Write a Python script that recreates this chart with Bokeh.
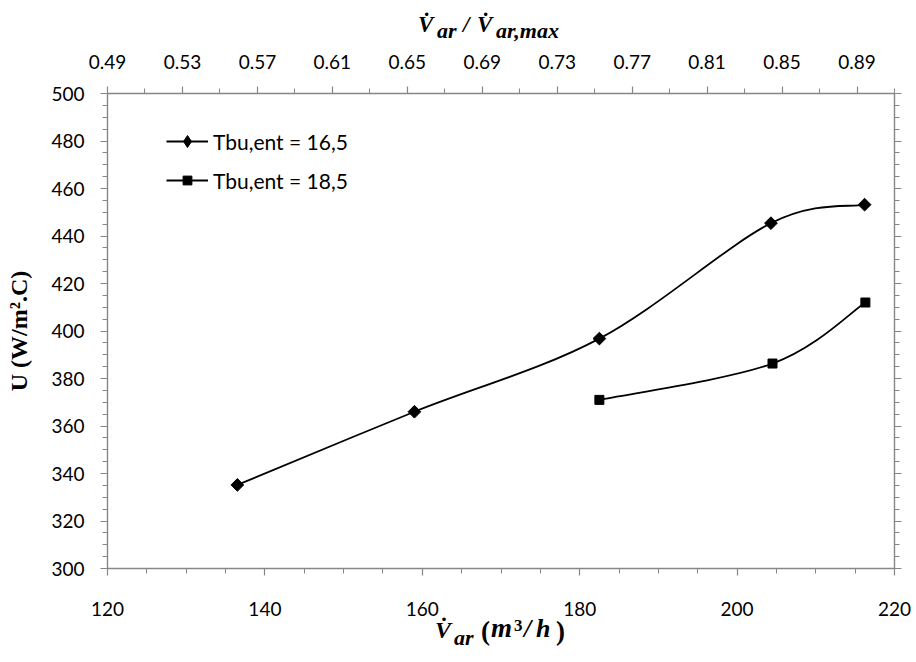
import numpy as np
from bokeh.plotting import figure
from bokeh.layouts import column
from bokeh.models import (ColumnDataSource, LinearAxis, Range1d, FixedTicker,
                          Legend, LegendItem, Div)
from bokeh.embed import file_html
from bokeh.resources import INLINE

# ---------------- data ----------------
series_names = ["Tbu,ent = 16,5", "Tbu,ent = 18,5"]
airflow_s1 = [136.5, 159.0, 182.5, 204.3, 216.2]
u_s1 = [335.2, 366.0, 396.8, 445.4, 453.2]
airflow_s2 = [182.5, 204.5, 216.3]
u_s2 = [371.0, 386.3, 412.0]

x_ticks = [120, 140, 160, 180, 200, 220]
x_minor = [v for v in range(120, 221, 5)]
y_ticks = [300, 320, 340, 360, 380, 400, 420, 440, 460, 480, 500]
y_minor = [v for v in range(300, 501, 5)]
top_ticks = [0.49, 0.53, 0.57, 0.61, 0.65, 0.69, 0.73, 0.77, 0.81, 0.85, 0.89]
top_tick_labels = ["0.49", "0.53", "0.57", "0.61", "0.65", "0.69", "0.73",
                   "0.77", "0.81", "0.85", "0.89"]
top_minor = [0.51, 0.55, 0.59, 0.63, 0.67, 0.71, 0.75, 0.79, 0.83, 0.87, 0.91]
top_range = (0.49, 0.91)
x_range = (120, 220)
y_range = (300, 500)

AXIS_COLOR = "#868686"
TICK_FONT = "Lato"
SERIF = "Liberation Serif"

# ---------------- page geometry ----------------
PAGE_W, PAGE_H = 916, 662
TOP_H = 42                      # div with the top title
FRAME_L, FRAME_R, FRAME_T, FRAME_B = 107, 894, 93, 568
BORDER_BOTTOM = 57
FIG_H = (FRAME_B - TOP_H) + BORDER_BOTTOM
BOT_TOP = TOP_H + FIG_H
BOT_H = PAGE_H - BOT_TOP


def smooth_segments(xs, ys):
    """Bezier control points (Excel-like smoothing) computed from the data."""
    n = len(xs)
    d = dict(x0=[], y0=[], x1=[], y1=[], cx0=[], cy0=[], cx1=[], cy1=[])
    for i in range(n - 1):
        a = i - 1 if i > 0 else i
        b = i + 2 if i + 2 < n else i + 1
        d["x0"].append(xs[i]); d["y0"].append(ys[i])
        d["x1"].append(xs[i + 1]); d["y1"].append(ys[i + 1])
        d["cx0"].append(xs[i] + (xs[i + 1] - xs[a]) / 6.0)
        d["cy0"].append(ys[i] + (ys[i + 1] - ys[a]) / 6.0)
        d["cx1"].append(xs[i + 1] - (xs[b] - xs[i]) / 6.0)
        d["cy1"].append(ys[i + 1] - (ys[b] - ys[i]) / 6.0)
    return ColumnDataSource(d)


p = figure(width=PAGE_W, height=FIG_H, output_backend="svg", toolbar_location=None,
           x_range=Range1d(*x_range), y_range=Range1d(*y_range),
           x_axis_location=None, y_axis_location=None,
           min_border_left=FRAME_L, min_border_right=PAGE_W - FRAME_R,
           min_border_top=FRAME_T - TOP_H, min_border_bottom=BORDER_BOTTOM,
           margin=0)
p.outline_line_color = None
p.xgrid.visible = False
p.ygrid.visible = False
p.background_fill_color = "white"
p.border_fill_color = "white"
p.extra_x_ranges = {"ratio": Range1d(*top_range)}


def style_axis(ax, show_labels=True):
    ax.axis_line_color = AXIS_COLOR
    ax.axis_line_width = 1.4
    ax.major_tick_line_color = AXIS_COLOR
    ax.minor_tick_line_color = AXIS_COLOR
    ax.major_tick_line_width = 1.2
    ax.minor_tick_line_width = 1.0
    ax.major_tick_in = 0
    ax.minor_tick_in = 0
    ax.major_tick_out = 7
    ax.minor_tick_out = 5
    ax.major_label_text_font = TICK_FONT
    ax.major_label_text_font_size = "19px" if show_labels else "0px"
    ax.major_label_text_color = "#000000" if show_labels else None


bottom = LinearAxis(ticker=FixedTicker(ticks=x_ticks, minor_ticks=x_minor))
style_axis(bottom)
bottom.major_label_standoff = 26
p.add_layout(bottom, "below")

left = LinearAxis(ticker=FixedTicker(ticks=y_ticks, minor_ticks=y_minor))
style_axis(left)
left.major_label_standoff = 16
left.axis_label = "U (W/m\u00b2.C)"
left.axis_label_text_font = SERIF
left.axis_label_text_font_style = "bold"
left.axis_label_text_font_size = "24px"
left.axis_label_text_color = "#000000"
left.axis_label_standoff = 16
p.add_layout(left, "left")

right = LinearAxis(ticker=FixedTicker(ticks=y_ticks, minor_ticks=y_minor))
style_axis(right, show_labels=False)
right.major_label_standoff = 0
p.add_layout(right, "right")

top = LinearAxis(x_range_name="ratio",
                 ticker=FixedTicker(ticks=top_ticks, minor_ticks=top_minor))
style_axis(top)
top.major_label_standoff = 18
top.major_label_overrides = {t: s for t, s in zip(top_ticks, top_tick_labels)}
p.add_layout(top, "above")

# ---------------- series ----------------
src1 = ColumnDataSource(dict(x=airflow_s1, y=u_s1))
src2 = ColumnDataSource(dict(x=airflow_s2, y=u_s2))

curve1 = p.bezier(x0="x0", y0="y0", x1="x1", y1="y1", cx0="cx0", cy0="cy0",
                  cx1="cx1", cy1="cy1", source=smooth_segments(airflow_s1, u_s1),
                  line_color="black", line_width=1.8)
curve2 = p.bezier(x0="x0", y0="y0", x1="x1", y1="y1", cx0="cx0", cy0="cy0",
                  cx1="cx1", cy1="cy1", source=smooth_segments(airflow_s2, u_s2),
                  line_color="black", line_width=1.8)
# diamond renderer (used for the legend key, hidden under the square diamonds)
dia1 = p.scatter("x", "y", source=src1, marker="diamond", size=10,
                 fill_color="black", line_color="black")
pts1 = p.scatter("x", "y", source=src1, marker="square", size=9,
                 angle=np.pi / 4, fill_color="black", line_color="black")
pts2 = p.scatter("x", "y", source=src2, marker="square", size=9,
                 fill_color="black", line_color="black")

LEG_X = 166 - FRAME_L
LEG_FONT = "21px"
leg1 = Legend(items=[LegendItem(label=series_names[0], renderers=[curve1, dia1])],
              location=(LEG_X, FRAME_B - (141 + 15)),
              border_line_color=None, background_fill_alpha=0,
              padding=0, margin=0, spacing=0, glyph_width=42, glyph_height=30,
              label_height=20, label_standoff=5,
              label_text_font=TICK_FONT, label_text_font_size=LEG_FONT,
              label_text_color="#000000")
leg2 = Legend(items=[LegendItem(label=series_names[1], renderers=[curve2, pts2])],
              location=(LEG_X, FRAME_B - (180 + 12.5)),
              border_line_color=None, background_fill_alpha=0,
              padding=0, margin=0, spacing=0, glyph_width=42, glyph_height=22,
              label_height=20, label_standoff=5,
              label_text_font=TICK_FONT, label_text_font_size=LEG_FONT,
              label_text_color="#000000")
p.add_layout(leg1)
p.add_layout(leg2)


# ---------------- axis titles (math-like, real text) ----------------
def span(text, x, baseline, origin, size, style="italic"):
    top_px = baseline - origin - 0.8375 * size
    return (f'<span style="position:absolute; left:{x}px; top:{top_px:.1f}px; '
            f"font-family:'{SERIF}'; font-size:{size}px; line-height:{size}px; "
            f'font-weight:bold; font-style:{style}; color:#000; '
            f'white-space:nowrap;">{text}</span>')


top_pieces = [("V\u0307", 418, 32, 23, "italic"), ("ar", 437, 38, 22, "italic"),
              ("/", 463, 32, 23, "italic"), ("V\u0307", 477, 32, 23, "italic"),
              ("ar,max", 496, 38, 22, "italic")]
bot_pieces = [("V\u0307", 435, 638, 24, "italic"), ("ar", 454, 645, 22, "italic"),
              ("(", 481, 641, 27, "normal"), ("m", 491, 638, 27, "italic"),
              ("3", 514, 631, 17, "normal"), ("/", 524, 638, 26, "italic"),
              ("h", 536, 638, 26, "italic"), (")", 556, 641, 27, "normal")]


def title_div(pieces, origin, h):
    inner = "".join(span(t, x, b, origin, s, st) for t, x, b, s, st in pieces)
    html = (f'<div style="position:relative; width:{PAGE_W}px; height:{h}px; '
            f'overflow:visible;">{inner}</div>')
    return Div(text=html, width=PAGE_W, height=h, margin=0)


top_div = title_div(top_pieces, 0, TOP_H)
bot_div = title_div(bot_pieces, BOT_TOP, BOT_H)

layout = column(top_div, p, bot_div, spacing=0, margin=0)
open("out.html", "w").write(file_html(layout, INLINE))
